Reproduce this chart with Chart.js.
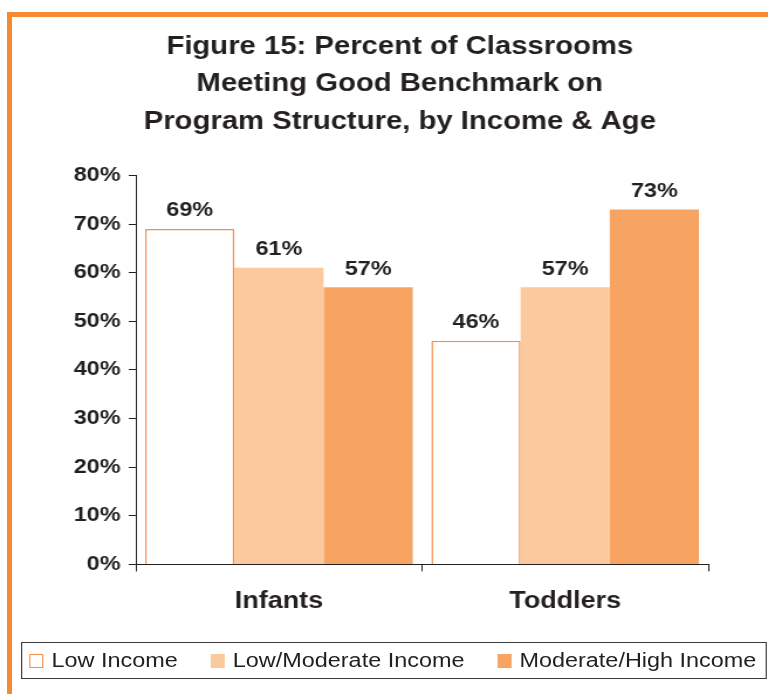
<!DOCTYPE html>
<html lang="en">
<head>
    <meta charset="UTF-8">
    <title>Figure 15: Program Structure by Income & Age</title>
    <style>
        body {
            margin: 0;
            background: #ffffff;
            overflow: hidden;
            font-family: 'Liberation Sans', Arial, sans-serif;
        }
        .frame {
            position: absolute;
            left: 7px;
            top: 12px;
            width: 770px;
            height: 700px;
            border-top: 5px solid #F58A33;
            border-left: 5px solid #F58A33;
        }
        /* the figure is set wide, so the drawing is stretched across */
        .stretch {
            position: absolute;
            left: 0;
            top: 0;
            width: 656px;
            height: 694px;
            transform: scaleX(1.1707);
            transform-origin: 0 0;
        }
        #legend {
            position: absolute;
            left: 18px;
            top: 642px;
            width: 637px;
            height: 37px;
            box-sizing: border-box;
            border: 1px solid #3a3a3a;
            display: flex;
            align-items: center;
            padding-left: 6px;
            font-size: 20px;
            color: #231F20;
            white-space: nowrap;
        }
        #legend .item {
            display: flex;
            align-items: center;
            margin-right: 28px;
        }
        #legend .swatch {
            width: 12px;
            height: 14px;
            box-sizing: border-box;
            margin-right: 7px;
        }
    </style>
</head>
<body>
    <div class="frame"></div>
    <div class="stretch">
        <canvas id="chart" width="656" height="694"></canvas>
        <div id="legend"></div>
    </div>

    <script src="https://cdn.jsdelivr.net/npm/chart.js"></script>
    <script>
        const ageGroups = ['Infants', 'Toddlers'];
        const lowIncome = [69, 46];
        const lowModerateIncome = [61, 57];
        const moderateHighIncome = [57, 73];
        const seriesNames = ['Low Income', 'Low/Moderate Income', 'Moderate/High Income'];
        const titleLines = ['Figure 15: Percent of Classrooms', 'Meeting Good Benchmark on', 'Program Structure, by Income & Age'];

        const ink = '#231F20';
        const fontFamily = "'Liberation Sans', Arial, sans-serif";

        // value labels above every bar
        const valueLabels = {
            id: 'valueLabels',
            afterDatasetsDraw(chart) {
                const ctx = chart.ctx;
                ctx.save();
                ctx.fillStyle = ink;
                ctx.font = 'bold 20px ' + fontFamily;
                ctx.textAlign = 'center';
                ctx.textBaseline = 'middle';
                chart.data.datasets.forEach((ds, i) => {
                    chart.getDatasetMeta(i).data.forEach((bar, j) => {
                        ctx.fillText(ds.data[j] + '%', bar.x, bar.y - 18);
                    });
                });
                ctx.restore();
            }
        };

        const chart = new Chart(document.getElementById('chart'), {
            type: 'bar',
            data: {
                labels: ageGroups,
                datasets: [{
                    label: seriesNames[0],
                    data: lowIncome,
                    backgroundColor: '#ffffff',
                    borderColor: '#F5914A',
                    borderWidth: 1.5
                }, {
                    label: seriesNames[1],
                    data: lowModerateIncome,
                    backgroundColor: '#FBC99E',
                    borderColor: '#FBC99E',
                    borderWidth: 0
                }, {
                    label: seriesNames[2],
                    data: moderateHighIncome,
                    backgroundColor: '#F7A462',
                    borderColor: '#F7A462',
                    borderWidth: 0
                }]
            },
            options: {
                responsive: false,
                animation: false,
                devicePixelRatio: 1,
                layout: {
                    padding: { left: 27, right: 0, top: 22, bottom: 63 }
                },
                datasets: {
                    bar: {
                        categoryPercentage: 0.935,
                        barPercentage: 1.0
                    }
                },
                plugins: {
                    title: {
                        display: true,
                        text: titleLines,
                        color: ink,
                        font: { family: fontFamily, size: 25, weight: 'bold', lineHeight: 1.5 },
                        padding: { top: 6, bottom: 35 }
                    },
                    legend: { display: false },
                    tooltip: { enabled: false }
                },
                scales: {
                    x: {
                        grid: {
                            offset: true,
                            drawOnChartArea: false,
                            drawTicks: true,
                            tickLength: 7,
                            color: ink
                        },
                        border: { display: true, color: ink, width: 1 },
                        ticks: {
                            color: ink,
                            padding: 16,
                            font: { family: fontFamily, size: 23, weight: 'bold' }
                        }
                    },
                    y: {
                        min: 0,
                        max: 80,
                        afterFit: s => { s.width = 89; },
                        grid: {
                            drawOnChartArea: false,
                            drawTicks: true,
                            tickLength: 6,
                            color: ink
                        },
                        border: { display: true, color: ink, width: 1 },
                        ticks: {
                            stepSize: 10,
                            color: ink,
                            padding: 7,
                            font: { family: fontFamily, size: 20, weight: 'bold' },
                            callback: v => v + '%'
                        }
                    },
                    // empty strip on the right of the plot
                    gap: {
                        position: 'right',
                        afterFit: s => { s.width = 51; },
                        grid: { display: false },
                        border: { display: false },
                        ticks: { display: false }
                    }
                }
            },
            plugins: [valueLabels]
        });

        // legend row, built from the chart's datasets
        const legendEl = document.getElementById('legend');
        chart.data.datasets.forEach(ds => {
            const item = document.createElement('span');
            item.className = 'item';
            const sw = document.createElement('span');
            sw.className = 'swatch';
            sw.style.background = ds.backgroundColor;
            if (ds.borderWidth) sw.style.border = '1.5px solid ' + ds.borderColor;
            item.appendChild(sw);
            item.appendChild(document.createTextNode(ds.label));
            legendEl.appendChild(item);
        });
    </script>
</body>
</html>
